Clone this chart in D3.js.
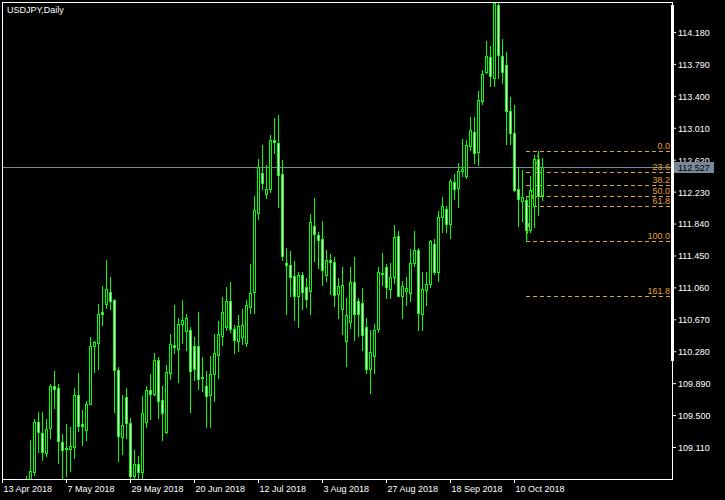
<!DOCTYPE html>
<html><head><meta charset="utf-8">
<script src="https://cdn.jsdelivr.net/npm/d3@7"></script>
<style>
html,body{margin:0;padding:0;background:#000;}
svg{display:block;}
text{font-family:"Liberation Sans",Arial,sans-serif;font-size:9px;}
</style></head>
<body>
<svg id="c" width="725" height="500"></svg>
<script>
const title = "USDJPY,Daily";
const opens = [107.36,107.30,107.13,107.04,107.21,107.35,107.65,108.69,108.81,109.41,
109.28,109.04,109.34,109.86,109.83,109.17,109.10,109.08,109.11,109.75,
109.39,109.32,109.64,110.34,110.38,110.76,110.86,111.00,110.90,110.05,
109.23,109.72,109.40,108.75,108.90,108.80,109.41,109.81,109.76,110.17,
109.69,109.29,110.02,110.36,110.31,110.61,110.53,110.54,110.35,110.34,
109.97,109.86,109.74,110.00,110.24,110.47,110.58,110.89,110.55,110.40,
110.45,110.38,110.82,111.00,111.97,112.46,112.20,112.26,112.855,112.82,
112.44,111.36,111.33,111.20,110.95,111.21,111.06,111.01,111.81,111.70,
111.65,111.21,111.39,111.37,110.985,110.80,110.41,110.64,111.13,110.89,
110.87,110.57,110.06,110.22,110.55,111.23,111.31,111.04,111.185,111.69,
110.95,111.02,110.99,111.36,111.52,110.73,111.03,111.10,111.59,111.25,
111.92,112.02,111.83,112.35,112.27,112.48,112.415,112.79,112.96,112.71,
113.34,113.69,113.875,113.62,114.51,113.89,113.78,113.22,112.945,112.26,
112.11,112.13,111.76,112.05,112.63,112.19];
const highs = [107.78,107.48,107.18,107.45,107.54,107.69,108.76,109.20,109.45,109.54,
109.54,109.45,109.88,110.04,109.88,109.27,109.39,109.36,109.83,110.01,
109.56,109.67,110.455,110.41,110.86,111.08,111.40,111.19,110.92,110.09,
109.75,109.83,109.46,109.07,109.00,109.73,109.86,110.00,110.26,110.21,
109.86,110.11,110.49,110.85,110.69,110.91,110.74,110.58,110.45,110.76,
110.21,110.04,110.22,110.49,110.65,110.94,111.07,111.13,110.60,110.72,
110.79,110.90,111.35,112.18,112.63,112.80,112.56,112.92,113.13,113.17,
112.62,111.54,111.51,111.38,111.25,111.25,111.17,111.96,112.15,111.74,
111.87,111.52,111.47,111.43,111.17,111.31,110.93,111.31,111.43,110.93,
111.05,110.68,110.54,110.61,111.31,111.48,111.35,111.36,111.825,111.75,
111.14,111.19,111.53,111.75,111.54,111.25,111.25,111.64,111.65,111.995,
112.17,112.05,112.39,112.44,112.58,112.87,112.86,113.14,113.14,113.46,
113.71,114.065,114.01,114.55,114.55,114.10,113.94,113.385,113.29,112.525,
112.50,112.17,112.42,112.68,112.729,112.64];
const lows = [107.22,107.07,106.95,106.99,107.18,107.32,107.60,108.55,108.77,109.05,
108.95,109.00,109.22,109.59,108.92,108.71,108.75,108.82,108.98,109.30,
109.14,109.20,109.63,110.03,110.06,110.60,110.81,110.79,109.54,108.94,
109.03,109.22,108.58,108.65,108.65,108.71,109.36,109.45,109.75,109.47,
109.19,109.28,109.94,110.26,109.91,110.38,110.29,109.54,109.93,109.82,
109.79,109.36,109.36,109.67,109.95,110.36,110.54,110.52,110.26,110.28,
110.37,110.34,110.75,110.75,111.90,112.26,112.15,112.22,112.70,112.04,
111.40,110.74,110.95,110.66,110.58,110.79,110.82,110.74,111.38,111.30,
111.09,111.14,110.98,110.83,110.69,110.49,110.10,110.56,110.42,110.46,
110.30,110.01,109.77,110.02,110.51,111.09,110.93,110.93,111.11,110.95,
110.68,110.84,110.89,111.32,110.54,110.54,110.84,111.07,111.22,111.14,
111.74,111.74,111.66,112.14,112.04,112.415,112.40,112.74,112.58,112.55,
113.30,113.68,113.515,113.515,113.62,113.56,112.815,112.815,112.24,111.81,
111.865,111.629,111.74,111.80,111.95,112.13];
const closes = [107.35,107.15,107.03,107.22,107.37,107.62,108.69,108.82,109.41,109.29,
109.05,109.33,109.86,109.82,109.18,109.07,109.08,109.12,109.75,109.37,
109.37,109.64,110.345,110.39,110.74,110.74,111.04,110.89,110.05,109.24,
109.38,109.40,108.75,108.90,108.80,109.52,109.81,109.76,110.17,109.67,
109.53,110.03,110.37,110.33,110.61,110.66,110.68,110.04,110.06,109.94,
109.95,109.73,110.00,110.26,110.49,110.76,110.89,110.55,110.42,110.59,
110.60,110.84,110.99,112.00,112.53,112.34,112.26,112.855,112.84,112.43,
111.44,111.33,111.19,110.96,111.21,111.00,110.92,111.86,111.71,111.645,
111.27,111.39,111.37,110.97,111.075,111.09,110.72,111.13,110.73,110.73,
110.48,110.06,110.27,110.54,111.25,111.225,111.06,111.185,111.67,110.96,
111.08,111.05,111.36,111.515,110.745,111.04,111.10,111.63,111.25,111.92,
112.05,111.83,112.36,112.26,112.48,112.505,112.80,112.98,112.70,113.35,
113.67,113.89,113.64,114.535,113.895,113.69,113.22,112.945,112.25,112.14,
112.17,111.76,112.25,112.63,112.18,112.527];

const dateTickIndex = [0,16,32,48,64,80,96,112,128];
const dateTickLabels = ["13 Apr 2018","7 May 2018","29 May 2018","20 Jun 2018","12 Jul 2018","3 Aug 2018","27 Aug 2018","18 Sep 2018","10 Oct 2018"];
const priceTicks = [114.180,113.790,113.400,113.010,112.620,112.230,111.840,111.450,111.060,110.670,110.280,109.890,109.500,109.110];
const bidPrice = 112.527;
const fibLevels = [0,23.6,38.2,50,61.8,100,161.8];
const fibLabels = ["0.0","23.6","38.2","50.0","61.8","100.0","161.8"];
const fibFrom = {index:134, price:112.729};
const fibTo = {index:131, price:111.629};

const candles = opens.map((o,i)=>({i, o, h:highs[i], l:lows[i], c:closes[i]}));

const svg = d3.select("#c");
const L = 2, R = 672, T = 2, B = 479;
const x = d3.scaleLinear().domain([0,1]).range([2,6]);
const y = d3.scaleLinear().domain([109.11,114.18]).range([447,32]);

svg.append("rect").attr("width",725).attr("height",500).attr("fill","#000");
svg.append("defs").append("clipPath").attr("id","clip")
  .append("rect").attr("x",L+1).attr("y",T+1).attr("width",R-L-1).attr("height",B-T-1);

const plot = svg.append("g").attr("clip-path","url(#clip)");

// bid line
plot.append("line").attr("x1",L).attr("x2",R).attr("y1",Math.round(y(bidPrice))+0.5).attr("y2",Math.round(y(bidPrice))+0.5)
  .attr("stroke","#778899").attr("stroke-width",1);

// fibo
const fibCol = "#E4A035";
const fibRange = fibFrom.price - fibTo.price;
const fibG = plot.append("g");
fibLevels.forEach((lv,k)=>{
  const p = fibFrom.price - lv/100*fibRange;
  const yy = Math.round(y(p))+0.5;
  fibG.append("line").attr("x1",x(fibTo.index)).attr("x2",R).attr("y1",yy).attr("y2",yy)
    .attr("stroke",fibCol).attr("stroke-dasharray","4,3");
  fibG.append("text").attr("x",R-2).attr("y",yy-3).attr("text-anchor","end")
    .attr("fill",fibCol).text(fibLabels[k]);
});
fibG.append("line").attr("x1",x(fibTo.index)+0.5).attr("y1",y(fibTo.price))
  .attr("x2",x(fibFrom.index)+0.5).attr("y2",y(fibFrom.price))
  .attr("stroke",fibCol).attr("stroke-dasharray","4,3");

// candles
const cg = plot.append("g");
candles.forEach(d=>{
  const cx = x(d.i);
  const yh = Math.round(y(d.h)), yl = Math.round(y(d.l));
  cg.append("rect").attr("x",cx).attr("y",yh).attr("width",1).attr("height",Math.max(1,yl-yh+1)).attr("fill","#00FF00");
  const top = Math.round(y(Math.max(d.o,d.c))), bot = Math.round(y(Math.min(d.o,d.c)));
  const hh = bot-top+1;
  cg.append("rect").attr("x",cx-1).attr("y",top).attr("width",3).attr("height",hh).attr("fill","#00FF00");
  if(hh>2){
    cg.append("rect").attr("x",cx).attr("y",top+1).attr("width",1).attr("height",hh-2)
      .attr("fill", d.c>=d.o ? "#000" : "#FFFFFF");
  }
});

// frame
svg.append("rect").attr("x",L+0.5).attr("y",T+0.5).attr("width",R-L).attr("height",B-T)
  .attr("fill","none").attr("stroke","#fff");
svg.append("rect").attr("x",671).attr("y",5).attr("width",3).attr("height",356).attr("fill","#fff");

// price axis
const ya = svg.append("g").attr("transform",`translate(${R},0)`)
  .call(d3.axisRight(y).tickValues(priceTicks).tickSize(4).tickPadding(2).tickFormat(d3.format(".3f")));
ya.select(".domain").remove();
ya.selectAll("line").attr("stroke","#fff");
ya.selectAll("text").attr("fill","#fff").attr("dy","0.38em").style("font-family",'"Liberation Sans",Arial').style("font-size","9px");

// bid label
const by = Math.round(y(bidPrice));
svg.append("rect").attr("x",674).attr("y",by-5).attr("width",40).attr("height",11).attr("fill","#778899");
svg.append("text").attr("x",678).attr("y",by+3.5).attr("fill","#000").text(d3.format(".3f")(bidPrice));

// time axis
const xa = svg.append("g").attr("transform",`translate(0,${B})`)
  .call(d3.axisBottom(x).tickValues(dateTickIndex).tickSize(4).tickFormat((d,i)=>dateTickLabels[i]));
xa.select(".domain").remove();
xa.selectAll("line").attr("stroke","#fff");
xa.selectAll("text").attr("fill","#fff").attr("text-anchor","start").attr("x",1).attr("y",13).attr("dy",0)
  .style("font-family",'"Liberation Sans",Arial').style("font-size","9px");

// title
svg.append("text").attr("x",7).attr("y",13).attr("fill","#fff").text(title);
</script>
</body></html>
